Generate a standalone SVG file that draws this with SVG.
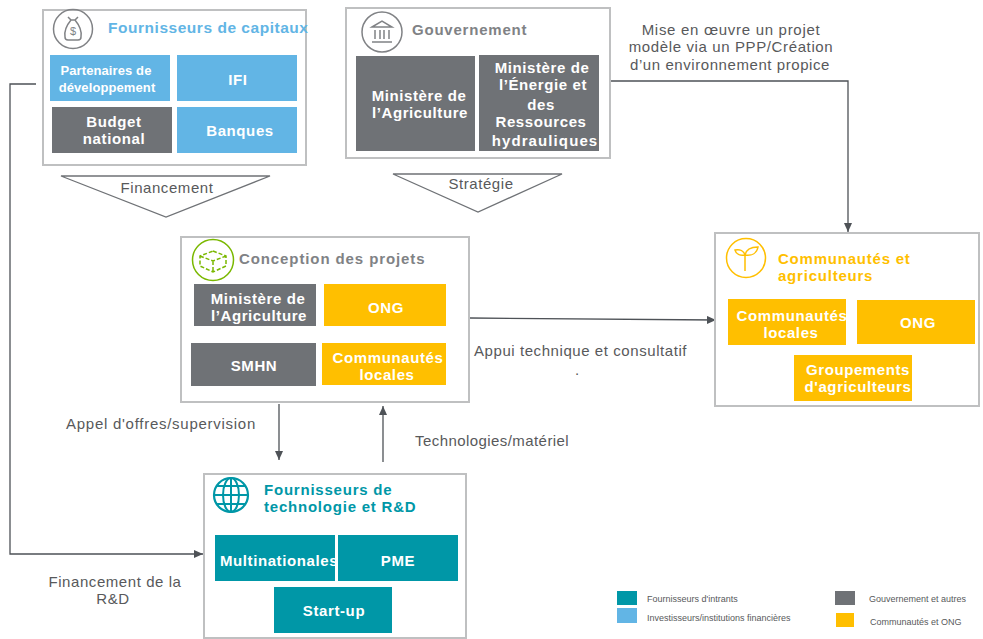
<svg xmlns="http://www.w3.org/2000/svg" width="983" height="639" viewBox="0 0 983 639">
<style>
text{font-family:"Liberation Sans",Arial,sans-serif}
.panel{fill:#fff;stroke:#bfc0c1;stroke-width:2}
.blue{fill:#62b5e5}.grey{fill:#6f7276}.amber{fill:#ffbf00}.teal{fill:#0097a7}
.w{fill:#fff;font-weight:700;font-size:15px;text-anchor:middle;letter-spacing:.6px}
.s{font-size:13px;letter-spacing:.1px}
.h{font-weight:700;font-size:15px;letter-spacing:.78px}
.l{fill:#58595b;font-size:15px;letter-spacing:.57px}
.c{text-anchor:middle}
.leg{fill:#58595b;font-size:9px}
.conn{fill:none;stroke:#4e5257;stroke-width:1.3}
.tri{fill:#fff;stroke:#6f7276;stroke-width:1.3}
.ic{fill:none;stroke:#808285;stroke-width:1.5}
</style>
<defs><marker id="a" markerWidth="10" markerHeight="8" refX="9" refY="4" orient="auto" markerUnits="userSpaceOnUse"><path d="M0 0L9 4L0 8z" fill="#4e5257"/></marker></defs>
<rect width="983" height="639" fill="#fff"/>
<g id="connectors">
<path class="conn" d="M36 84H10V554H203" marker-end="url(#a)"/>
<path class="conn" d="M610 81H848V232" marker-end="url(#a)"/>
<path class="conn" d="M470 318L716 320" marker-end="url(#a)"/>
<path class="conn" d="M279 404V460" marker-end="url(#a)"/>
<path class="conn" d="M383 462V406" marker-end="url(#a)"/>
</g>
<g id="financement"><path class="tri" d="M61 176H270L166 217z"/><text class="l c" x="167" y="193">Financement</text></g>
<g id="strategie"><path class="tri" d="M393 174H562L478 212z"/><text class="l c" x="481" y="189">Stratégie</text></g>
<g id="fournisseurs-capitaux">
<rect class="panel" x="43" y="10" width="263" height="155"/>
<circle class="ic" cx="73" cy="29" r="19.500"/>
<path class="ic" d="M68 17l3 3h4l3-3M71 20c-5 6-7 11-6 17 0 2 1 3 3 3h10c2 0 3-1 3-3 1-6-1-11-6-17"/>
<text x="73" y="35" font-size="11" text-anchor="middle" fill="#808285">$</text>
<text class="h" x="108" y="33" fill="#62b5e5" style="font-size:15.500px;letter-spacing:.53px">Fournisseurs de capitaux</text>
<rect class="blue" x="50" y="55" width="120" height="46"/>
<text class="w s" x="106" y="75">Partenaires de</text>
<text class="w s" x="107" y="92">développement</text>
<rect class="blue" x="177" y="55" width="120" height="46"/>
<text class="w" x="238" y="85">IFI</text>
<rect class="grey" x="52" y="107" width="120" height="46"/>
<text class="w" x="114" y="127">Budget</text><text class="w" x="114" y="144">national</text>
<rect class="blue" x="177" y="107" width="120" height="46"/>
<text class="w" x="240" y="136">Banques</text>
</g>
<g id="gouvernement">
<rect class="panel" x="346" y="8" width="264" height="150"/>
<circle class="ic" cx="382" cy="32" r="20"/>
<path class="ic" d="M372 27l10-6 10 6zM375 30v9M380 30v9M384 30v9M389 30v9M372 42h20"/>
<text class="h" x="412" y="35" fill="#808285">Gouvernement</text>
<rect class="grey" x="356" y="56" width="119" height="95"/>
<text class="w" x="419" y="101">Ministère de</text><text class="w" x="420" y="118">l’Agriculture</text>
<rect class="grey" x="479" y="55" width="120" height="96"/>
<text class="w" x="542" y="73">Ministère de</text><text class="w" x="543" y="90">l’Énergie et</text><text class="w" x="541" y="110">des</text><text class="w" x="541" y="127">Ressources</text><text class="w" x="545" y="146" style="letter-spacing:1.1px">hydrauliques</text>
</g>
<g id="conception">
<rect class="panel" x="181" y="237" width="288" height="165"/>
<circle cx="213" cy="260" r="20.500" fill="none" stroke="#7ab800" stroke-width="1.500"/>
<path d="M213 251l13 5v10l-13 6-13-6v-10zM200 256l13 5 13-5M213 261v11" fill="none" stroke="#7ab800" stroke-width="1.500" stroke-dasharray="4 2"/>
<text class="h" x="239" y="264" fill="#808285" style="letter-spacing:.9px">Conception des projets</text>
<rect class="grey" x="194" y="284" width="122" height="42"/>
<text class="w" x="258" y="304">Ministère de</text><text class="w" x="259" y="321">l’Agriculture</text>
<rect class="amber" x="324" y="284" width="122" height="42"/>
<text class="w" x="386" y="313">ONG</text>
<rect class="grey" x="191" y="343" width="125" height="43"/>
<text class="w" x="254" y="371">SMHN</text>
<rect class="amber" x="322" y="343" width="124" height="42"/>
<text class="w" x="388" y="363">Communautés</text><text class="w" x="387" y="380">locales</text>
</g>
<g id="communautes">
<rect class="panel" x="715" y="233" width="264" height="173"/>
<circle cx="746" cy="258" r="19.500" fill="none" stroke="#ffbf00" stroke-width="1.500"/>
<path d="M745 271V255M745 255c-1-4-5-6-10-5 1 4 5 6 10 5zM745 255c1-5 6-8 13-8-1 6-6 9-13 8z" fill="none" stroke="#ffbf00" stroke-width="1.500"/>
<text class="h" x="778" y="264" fill="#ffbf00">Communautés et</text><text class="h" x="778" y="281" fill="#ffbf00">agriculteurs</text>
<rect class="amber" x="728" y="299" width="118" height="46"/>
<text class="w" x="792" y="321">Communautés</text><text class="w" x="791" y="338">locales</text>
<rect class="amber" x="857" y="300" width="118" height="44"/>
<text class="w" x="918" y="328">ONG</text>
<rect class="amber" x="794" y="355" width="118" height="46"/>
<text class="w" x="858" y="375">Groupements</text><text class="w" x="858" y="392">d'agriculteurs</text>
</g>
<g id="technologie">
<rect class="panel" x="204" y="474" width="262" height="164"/>
<circle cx="231" cy="495" r="17" fill="none" stroke="#0097a7" stroke-width="2.200"/>
<ellipse cx="231" cy="495" rx="8" ry="17" fill="none" stroke="#0097a7" stroke-width="2"/>
<path d="M231 478V512M214 495H248M217 486H245M217 504H245" fill="none" stroke="#0097a7" stroke-width="2"/>
<text class="h" x="264" y="495" fill="#0097a7">Fournisseurs de</text><text class="h" x="264" y="512" fill="#0097a7">technologie et R&amp;D</text>
<rect class="teal" x="215" y="535" width="120" height="46"/>
<text class="w" x="279" y="566">Multinationales</text>
<rect class="teal" x="338" y="535" width="120" height="46"/>
<text class="w" x="398" y="566">PME</text>
<rect class="teal" x="274" y="587" width="118" height="46"/>
<text class="w" x="334" y="616">Start-up</text>
</g>
<g id="labels">
<text class="l c" x="731" y="35" style="letter-spacing:.7px">Mise en œuvre un projet</text>
<text class="l c" x="731" y="52" style="letter-spacing:.62px">modèle via un PPP/Création</text>
<text class="l c" x="730" y="70">d’un environnement propice</text>
<text class="l" x="474" y="356">Appui technique et consultatif</text>
<text class="l" x="575" y="375">.</text>
<text class="l" x="66" y="429" style="letter-spacing:.73px">Appel d'offres/supervision</text>
<text class="l" x="415" y="446" style="letter-spacing:.43px">Technologies/matériel</text>
<text class="l c" x="115" y="587">Financement de la</text>
<text class="l c" x="113" y="604">R&amp;D</text>
</g>
<g id="legend">
<rect class="teal" x="617" y="591" width="20" height="14"/><text class="leg" x="647" y="602">Fournisseurs d'intrants</text>
<rect class="blue" x="617" y="608" width="20" height="15"/><text class="leg" x="647" y="621">Investisseurs/institutions financières</text>
<rect class="grey" x="835" y="591" width="20" height="14"/><text class="leg" x="869" y="602">Gouvernement et autres</text>
<rect class="amber" x="836" y="613" width="18" height="14"/><text class="leg" x="870" y="625">Communautés et ONG</text>
</g>
</svg>
